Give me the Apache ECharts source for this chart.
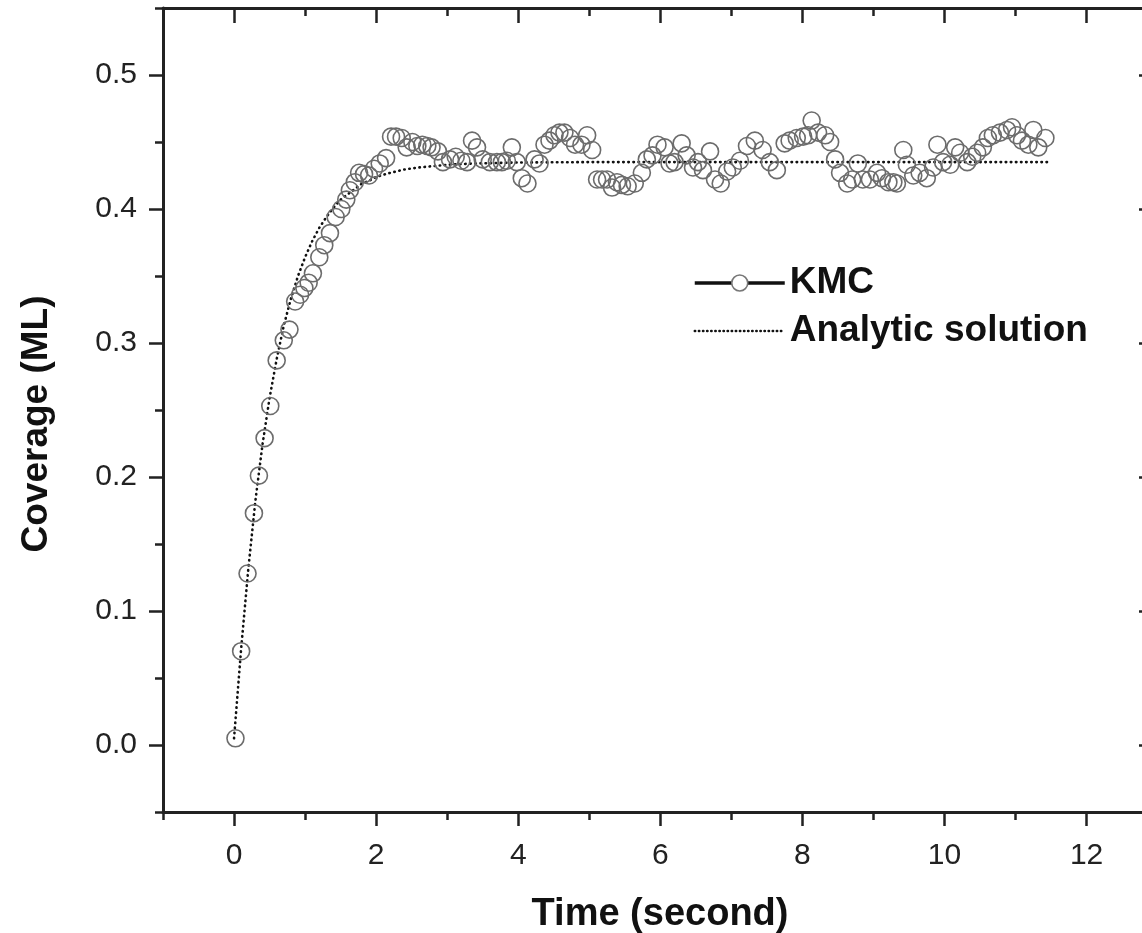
<!DOCTYPE html>
<html lang="en">
<head>
<meta charset="UTF-8" />
<title>Coverage vs time</title>
<script src="https://cdn.jsdelivr.net/npm/echarts@6/dist/echarts.min.js"></script>
<style>
	html, body { margin: 0; padding: 0; background: #fff; overflow: hidden; }
	#chart { width: 1150px; height: 933px; }
</style>
</head>
<body>
<div id="chart"></div>
<script type="text/javascript">
// KMC simulation points (time in s, coverage in ML)
var kmcTime = [0.02, 0.10, 0.19, 0.28, 0.35, 0.43, 0.51, 0.60, 0.70, 0.78,
	0.86, 0.93, 0.99, 1.05, 1.11, 1.20, 1.27, 1.35, 1.43, 1.51,
	1.58, 1.63, 1.70, 1.76, 1.83, 1.90, 1.97, 2.05, 2.14, 2.21,
	2.28, 2.36, 2.43, 2.51, 2.58, 2.65, 2.72, 2.78, 2.87, 2.94,
	3.04, 3.12, 3.20, 3.28, 3.35, 3.42, 3.50, 3.60, 3.70, 3.77,
	3.84, 3.91, 3.98, 4.05, 4.13, 4.23, 4.30, 4.37, 4.44, 4.51,
	4.58, 4.65, 4.73, 4.80, 4.89, 4.97, 5.04, 5.11, 5.18, 5.25,
	5.32, 5.39, 5.46, 5.54, 5.64, 5.74, 5.81, 5.89, 5.96, 6.06,
	6.13, 6.20, 6.30, 6.37, 6.46, 6.53, 6.60, 6.70, 6.77, 6.85,
	6.94, 7.02, 7.12, 7.22, 7.33, 7.44, 7.54, 7.64, 7.75, 7.82,
	7.92, 8.01, 8.08, 8.13, 8.22, 8.32, 8.39, 8.46, 8.53, 8.63,
	8.70, 8.78, 8.85, 8.95, 9.05, 9.12, 9.21, 9.28, 9.33, 9.42,
	9.47, 9.56, 9.65, 9.75, 9.84, 9.90, 9.98, 10.08, 10.15, 10.22,
	10.32, 10.39, 10.46, 10.54, 10.61, 10.68, 10.78, 10.88, 10.95, 11.02,
	11.09, 11.18, 11.25, 11.32, 11.42];
var kmcCoverage = [0.005, 0.070, 0.128, 0.173, 0.201, 0.229, 0.253, 0.287, 0.302, 0.310,
	0.331, 0.336, 0.341, 0.345, 0.352, 0.364, 0.373, 0.382, 0.394, 0.400,
	0.407, 0.414, 0.420, 0.427, 0.426, 0.425, 0.430, 0.434, 0.438, 0.454,
	0.454, 0.453, 0.446, 0.450, 0.447, 0.448, 0.447, 0.446, 0.443, 0.435,
	0.437, 0.439, 0.436, 0.435, 0.451, 0.446, 0.437, 0.435, 0.435, 0.435,
	0.436, 0.446, 0.435, 0.423, 0.419, 0.437, 0.434, 0.448, 0.451, 0.455,
	0.457, 0.457, 0.453, 0.448, 0.448, 0.455, 0.444, 0.422, 0.422, 0.422,
	0.416, 0.420, 0.418, 0.417, 0.419, 0.427, 0.437, 0.440, 0.448, 0.446,
	0.434, 0.435, 0.449, 0.440, 0.431, 0.435, 0.429, 0.443, 0.422, 0.419,
	0.428, 0.431, 0.436, 0.447, 0.451, 0.444, 0.435, 0.429, 0.449, 0.451,
	0.453, 0.454, 0.455, 0.466, 0.457, 0.455, 0.450, 0.437, 0.427, 0.419,
	0.422, 0.434, 0.422, 0.422, 0.427, 0.423, 0.420, 0.420, 0.419, 0.444,
	0.433, 0.425, 0.427, 0.423, 0.431, 0.448, 0.435, 0.433, 0.446, 0.442,
	0.435, 0.439, 0.442, 0.446, 0.453, 0.455, 0.457, 0.459, 0.461, 0.455,
	0.451, 0.448, 0.459, 0.446, 0.453];

// analytic solution
var fitTime = [0, 0.1, 0.2, 0.3, 0.4, 0.5, 0.6, 0.7, 0.8, 0.9, 1.0,
	1.1, 1.2, 1.3, 1.4, 1.5, 1.6, 1.7, 1.8, 1.9, 2.0,
	2.2, 2.4, 2.6, 2.8, 3.0, 3.4, 4.0, 5, 6, 8, 10, 11.5];
var fitCoverage = [0.005, 0.072, 0.131, 0.182, 0.224, 0.259, 0.288, 0.313, 0.333, 0.350, 0.364,
	0.376, 0.386, 0.394, 0.401, 0.407, 0.411, 0.415, 0.419, 0.421, 0.424,
	0.427, 0.4295, 0.431, 0.432, 0.433, 0.434, 0.4347, 0.435, 0.435, 0.435, 0.435, 0.435];

// axis ticks
var xMajor = [0, 2, 4, 6, 8, 10, 12];
var xMinor = [-1, 1, 3, 5, 7, 9, 11];
var yMajor = [0, 0.1, 0.2, 0.3, 0.4, 0.5];
var yMinor = [-0.05, 0.05, 0.15, 0.25, 0.35, 0.45, 0.55];

var FONT = 'Arial, "Liberation Sans", sans-serif';
var AXIS_COLOR = '#222';

function pairs(xs, ys) {
	var out = [];
	for (var i = 0; i < xs.length; i++) out.push([xs[i], ys[i]]);
	return out;
}

function xAx(pos, ticks, len, inside, labels, line) {
	return {
		type: 'value', position: pos, min: -1, max: 12.85,
		axisLine: { show: line, onZero: false, lineStyle: { color: AXIS_COLOR, width: 3 } },
		axisTick: { show: true, inside: inside, length: len, customValues: ticks,
			lineStyle: { color: AXIS_COLOR, width: 2.5 } },
		axisLabel: labels ? { show: true, customValues: ticks, margin: 29, fontSize: 30,
			fontFamily: FONT, color: '#222' } : { show: false },
		splitLine: { show: false }
	};
}

function yAx(pos, ticks, len, inside, labels, line) {
	return {
		type: 'value', position: pos, min: -0.05, max: 0.55,
		axisLine: { show: line, onZero: false, lineStyle: { color: AXIS_COLOR, width: 3 } },
		axisTick: { show: true, inside: inside, length: len, customValues: ticks,
			lineStyle: { color: AXIS_COLOR, width: 2.5 } },
		axisLabel: labels ? { show: true, customValues: ticks, margin: 26, fontSize: 30,
			fontFamily: FONT, color: '#222',
			formatter: function (v) { return v.toFixed(1); } } : { show: false },
		splitLine: { show: false }
	};
}

var xBottom = xAx('bottom', xMajor, 14, false, true, true);
xBottom.name = 'Time (second)';
xBottom.nameLocation = 'middle';
xBottom.nameGap = 84;
xBottom.nameTextStyle = { fontSize: 38, fontWeight: 'bold', fontFamily: FONT, color: '#111',
	padding: [0, 0, 0, 10] };

var yLeft = yAx('left', yMajor, 14, false, true, true);
yLeft.name = 'Coverage (ML)';
yLeft.nameLocation = 'middle';
yLeft.nameGap = 108;
yLeft.nameTextStyle = { fontSize: 37, fontWeight: 'bold', fontFamily: FONT, color: '#111',
	padding: [0, 28, 0, 0] };

var myChart = echarts.init(document.getElementById('chart'));
var option = {
	backgroundColor: '#fff',
	animation: false,
	grid: { left: 163, right: 3, top: 8, bottom: 121, containLabel: false, outerBoundsMode: 'none' },
	legend: {
		orient: 'vertical', left: 688, top: 258,
		itemWidth: 90, itemHeight: 20, itemGap: 8,
		textStyle: { fontSize: 37, fontWeight: 'bold', fontFamily: FONT, color: '#111', lineHeight: 40 },
		data: [
			{ name: 'KMC', itemStyle: { color: '#fff', borderColor: '#777', borderWidth: 1.6 },
				lineStyle: { color: '#111', width: 3.5, opacity: 1, type: 'solid' } },
			{ name: 'Analytic solution', itemStyle: { opacity: 0 },
				lineStyle: { color: '#111', width: 2.4, type: [0.5, 3.6], cap: 'round' } }
		]
	},
	xAxis: [
		xBottom,
		xAx('bottom', xMinor, 8, false, false, false),
		xAx('top', xMajor, 15, true, false, true),
		xAx('top', xMinor, 8, true, false, false)
	],
	yAxis: [
		yLeft,
		yAx('left', yMinor, 8, false, false, false),
		yAx('right', yMajor, 8, true, false, true),
		yAx('right', yMinor, 5, true, false, false)
	],
	series: [
		{
			name: 'Analytic solution', type: 'line',
			data: pairs(fitTime, fitCoverage),
			smooth: false,
			showSymbol: false, symbol: 'none',
			lineStyle: { color: '#111', width: 2.6, type: [0.5, 4.6], cap: 'round' },
			itemStyle: { color: '#111' },
			z: 2
		},
		{
			name: 'KMC', type: 'line',
			data: pairs(kmcTime, kmcCoverage),
			symbol: 'circle', symbolSize: 17, showAllSymbol: true,
			lineStyle: { width: 0, opacity: 0 },
			itemStyle: { color: 'rgba(255,255,255,0)', borderColor: '#6c6c6c', borderWidth: 1.6 },
			z: 3
		}
	]
};
myChart.setOption(option);
</script>
</body>
</html>
